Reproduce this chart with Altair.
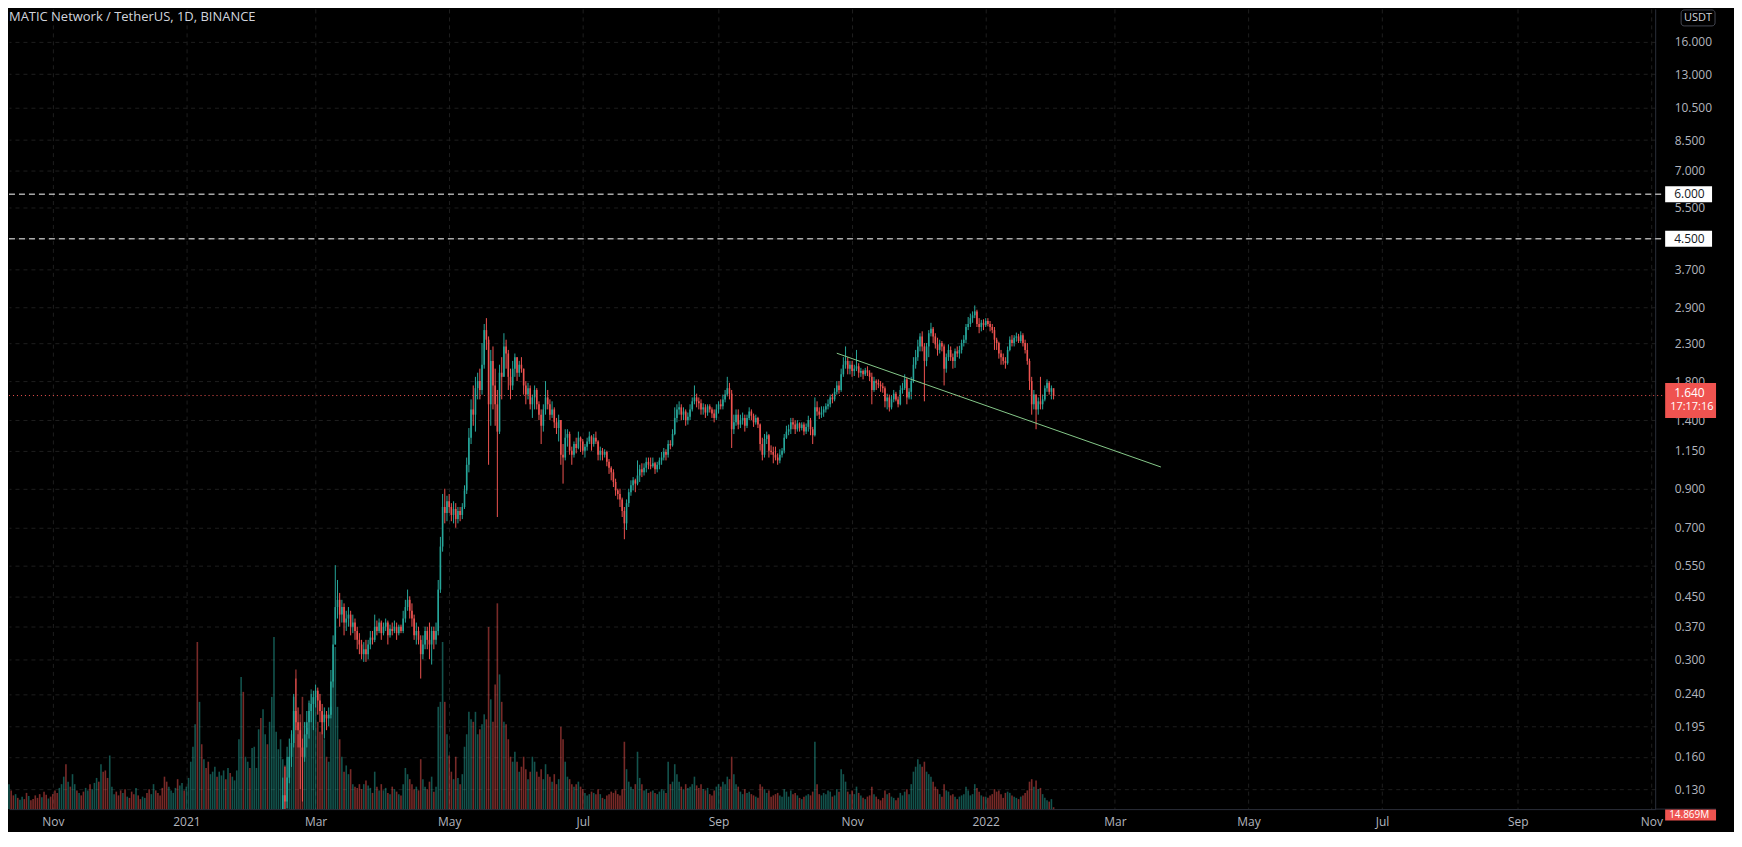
import altair as alt
import pandas as pd

W, H = 1650, 802
BG = "#000000"
GREEN = "#26a69a"
RED = "#ef5350"
TEXT = "#b2b5be"
LINE = "#2a2e39"
GRID = "#1e1e1e"
FONT = "Open Sans"

title_text = "MATIC Network / TetherUS, 1D, BINANCE"

# ---- daily closes before the price enters the visible range (2020-10-12 .. 2021-02-09), used for volume colours
early_close = [
    0.0215, 0.0212, 0.0208, 0.021, 0.0198, 0.0201, 0.0205, 0.0202, 0.0195, 0.0199, 0.0196, 0.0192, 0.0189, 0.0185, 0.0178, 0.0181, 0.0172, 0.0165, 0.0169, 0.0163,
    0.0158, 0.0152, 0.0149, 0.0155, 0.0165, 0.0172, 0.0168, 0.0175, 0.0171, 0.0178, 0.0182, 0.0179, 0.0185, 0.0181, 0.0176, 0.0184, 0.0192, 0.0188, 0.0196, 0.0205, 0.0215, 0.0209, 0.0221, 0.0212, 0.0198, 0.0185, 0.0192, 0.0202, 0.0206, 0.0199,
    0.0191, 0.0188, 0.0194, 0.0183, 0.0187, 0.0185, 0.0179, 0.0172, 0.0176, 0.0171, 0.0168, 0.0173, 0.0178, 0.0175, 0.0172, 0.0179, 0.0186, 0.0183, 0.0181, 0.0177, 0.0169, 0.0164, 0.0152, 0.0158, 0.0165, 0.0168, 0.0174, 0.0171, 0.0176, 0.0181, 0.0178,
    0.0185, 0.0192, 0.0221, 0.0232, 0.0251, 0.0238, 0.0262, 0.0247, 0.0255, 0.0241, 0.0222, 0.0229, 0.0243, 0.0251, 0.0239, 0.0247, 0.0256, 0.0262, 0.0253, 0.0259, 0.0238, 0.0246, 0.0255, 0.0268, 0.0301, 0.0342, 0.0318, 0.0335, 0.0358, 0.0347, 0.0372,
    0.0395, 0.0412, 0.0438, 0.0421, 0.0447, 0.0489, 0.0472, 0.0518, 0.0585,
]

# ---- daily candles 2021-02-10 .. 2022-02-01
close = [
    0.065, 0.072, 0.085, 0.10, 0.125, 0.12, 0.14, 0.16, 0.175, 0.215, 0.20, 0.19, 0.17, 0.16, 0.185, 0.20, 0.215, 0.225, 0.235,
    0.245, 0.23, 0.215, 0.20, 0.21, 0.205, 0.21, 0.26, 0.33, 0.42, 0.44, 0.40, 0.42, 0.38, 0.39, 0.40, 0.37, 0.38, 0.36, 0.34, 0.33, 0.31, 0.32, 0.31, 0.33, 0.345, 0.34, 0.37, 0.36, 0.38, 0.355,
    0.37, 0.38, 0.35, 0.365, 0.36, 0.37, 0.355, 0.37, 0.36, 0.39, 0.42, 0.44, 0.41, 0.39, 0.35, 0.36, 0.34, 0.31, 0.33, 0.36, 0.34, 0.33, 0.36, 0.34, 0.36, 0.47, 0.62, 0.80, 0.77, 0.83,
    0.80, 0.76, 0.79, 0.74, 0.78, 0.76, 0.80, 0.89, 1.05, 1.25, 1.50, 1.45, 1.72, 1.80, 1.70, 2.00, 2.50, 2.35, 1.55, 2.05, 1.75, 1.55, 1.30, 1.90, 1.85, 2.25, 2.15, 1.85, 1.75, 1.95, 2.10,
    1.90, 2.00, 1.95, 1.75, 1.65, 1.72, 1.55, 1.62, 1.70, 1.55, 1.45, 1.35, 1.50, 1.62, 1.55, 1.45, 1.50, 1.38, 1.33, 1.40, 1.12, 1.10, 1.25, 1.28, 1.15, 1.12, 1.20, 1.17, 1.25, 1.22,
    1.15, 1.18, 1.22, 1.26, 1.20, 1.25, 1.22, 1.12, 1.15, 1.12, 1.14, 1.07, 1.03, 1.00, 0.94, 0.89, 0.87, 0.84, 0.78, 0.72, 0.82, 0.88, 0.92, 0.95, 0.93, 0.98, 1.02, 1.00, 1.03, 1.07, 1.05,
    1.04, 1.06, 1.02, 1.05, 1.08, 1.10, 1.14, 1.12, 1.20, 1.19, 1.28, 1.42, 1.50, 1.52, 1.45, 1.48, 1.40, 1.43, 1.50, 1.58, 1.62, 1.58, 1.56, 1.50, 1.52, 1.47, 1.53, 1.50, 1.46, 1.42, 1.50,
    1.55, 1.53, 1.60, 1.65, 1.72, 1.66, 1.32, 1.38, 1.45, 1.36, 1.40, 1.42, 1.35, 1.42, 1.48, 1.44, 1.38, 1.42, 1.36, 1.20, 1.12, 1.24, 1.27, 1.15, 1.14, 1.12, 1.10, 1.08, 1.12, 1.15,
    1.25, 1.30, 1.32, 1.38, 1.36, 1.32, 1.37, 1.33, 1.36, 1.30, 1.34, 1.40, 1.32, 1.27, 1.52, 1.48, 1.45, 1.47, 1.50, 1.53, 1.55, 1.62, 1.60, 1.68, 1.75, 1.70, 1.88, 2.00, 2.05, 1.95, 2.00,
    1.92, 1.95, 1.98, 1.90, 1.92, 1.88, 1.93, 1.90, 1.85, 1.70, 1.80, 1.78, 1.76, 1.74, 1.72, 1.58, 1.62, 1.52, 1.60, 1.66, 1.60, 1.55, 1.70, 1.72, 1.82, 1.62, 1.68, 1.80, 2.00, 2.10,
    2.25, 2.40, 2.25, 2.05, 2.25, 2.45, 2.52, 2.40, 2.28, 2.20, 2.30, 2.25, 1.95, 2.10, 2.20, 2.10, 2.05, 2.18, 2.15, 2.20, 2.30, 2.35, 2.55, 2.60, 2.70, 2.75, 2.82, 2.60, 2.55, 2.62, 2.58,
    2.65, 2.60, 2.55, 2.50, 2.35, 2.30, 2.15, 2.10, 2.05, 2.02, 2.20, 2.35, 2.30, 2.38, 2.40, 2.33, 2.42, 2.30, 2.20, 2.05, 1.80, 1.55, 1.65, 1.50, 1.58, 1.55, 1.60, 1.72, 1.78, 1.68, 1.72,
    1.64,
]
high = [
    0.075, 0.08, 0.09, 0.11, 0.14, 0.15, 0.16, 0.18, 0.19, 0.24, 0.265, 0.22, 0.20, 0.18, 0.20, 0.215, 0.23, 0.24, 0.245,
    0.255, 0.25, 0.24, 0.225, 0.22, 0.215, 0.22, 0.28, 0.35, 0.55, 0.50, 0.46, 0.44, 0.43, 0.41, 0.42, 0.41, 0.40, 0.39, 0.37, 0.355, 0.34, 0.335, 0.34, 0.34, 0.36, 0.36, 0.40, 0.385, 0.39, 0.385,
    0.38, 0.39, 0.385, 0.375, 0.38, 0.385, 0.38, 0.375, 0.375, 0.41, 0.44, 0.47, 0.45, 0.43, 0.40, 0.38, 0.37, 0.35, 0.35, 0.37, 0.37, 0.38, 0.37, 0.37, 0.38, 0.50, 0.66, 0.87, 0.90, 0.86,
    0.87, 0.82, 0.83, 0.82, 0.80, 0.80, 0.82, 0.92, 1.10, 1.33, 1.60, 1.75, 1.85, 1.90, 1.95, 2.30, 2.60, 2.70, 2.40, 2.20, 2.25, 1.95, 1.70, 2.00, 2.10, 2.45, 2.35, 2.20, 1.95, 2.05, 2.15,
    2.10, 2.05, 2.10, 1.95, 1.80, 1.78, 1.75, 1.65, 1.75, 1.72, 1.58, 1.50, 1.55, 1.80, 1.70, 1.60, 1.58, 1.52, 1.42, 1.45, 1.40, 1.20, 1.32, 1.32, 1.30, 1.18, 1.22, 1.25, 1.30, 1.26,
    1.24, 1.20, 1.25, 1.30, 1.27, 1.28, 1.30, 1.23, 1.18, 1.17, 1.16, 1.15, 1.09, 1.04, 1.02, 0.96, 0.90, 0.90, 0.85, 0.80, 0.84, 0.90, 0.95, 0.97, 0.96, 1.08, 1.05, 1.06, 1.06, 1.10, 1.10,
    1.10, 1.10, 1.07, 1.07, 1.10, 1.14, 1.17, 1.16, 1.23, 1.23, 1.32, 1.52, 1.55, 1.58, 1.55, 1.52, 1.50, 1.47, 1.55, 1.62, 1.75, 1.66, 1.62, 1.60, 1.56, 1.55, 1.55, 1.55, 1.52, 1.50, 1.55,
    1.58, 1.60, 1.65, 1.70, 1.85, 1.78, 1.70, 1.45, 1.50, 1.50, 1.45, 1.47, 1.45, 1.45, 1.52, 1.50, 1.46, 1.45, 1.43, 1.37, 1.25, 1.28, 1.30, 1.28, 1.19, 1.18, 1.18, 1.13, 1.16, 1.17,
    1.28, 1.35, 1.36, 1.42, 1.42, 1.40, 1.40, 1.38, 1.38, 1.38, 1.37, 1.44, 1.42, 1.34, 1.62, 1.58, 1.52, 1.53, 1.53, 1.56, 1.60, 1.65, 1.66, 1.72, 1.80, 1.80, 1.95, 2.10, 2.25, 2.10, 2.05,
    2.05, 2.00, 2.20, 2.02, 1.96, 1.94, 1.96, 1.98, 1.93, 1.90, 1.85, 1.82, 1.82, 1.80, 1.78, 1.74, 1.66, 1.65, 1.64, 1.70, 1.68, 1.63, 1.75, 1.78, 1.88, 1.84, 1.72, 1.85, 2.10, 2.20,
    2.35, 2.45, 2.48, 2.30, 2.30, 2.50, 2.62, 2.55, 2.45, 2.38, 2.35, 2.33, 2.28, 2.15, 2.28, 2.25, 2.15, 2.22, 2.25, 2.26, 2.35, 2.42, 2.60, 2.72, 2.78, 2.82, 2.93, 2.85, 2.70, 2.67, 2.68,
    2.70, 2.70, 2.65, 2.60, 2.55, 2.38, 2.32, 2.20, 2.15, 2.10, 2.25, 2.40, 2.42, 2.42, 2.46, 2.44, 2.48, 2.45, 2.35, 2.30, 2.08, 1.85, 1.70, 1.65, 1.62, 1.85, 1.65, 1.75, 1.82, 1.80, 1.75,
    1.70,
]
low = [
    0.052, 0.062, 0.07, 0.082, 0.098, 0.11, 0.115, 0.135, 0.15, 0.17, 0.19, 0.17, 0.13, 0.12, 0.155, 0.17, 0.18, 0.20, 0.19,
    0.22, 0.21, 0.20, 0.185, 0.18, 0.19, 0.195, 0.205, 0.25, 0.33, 0.39, 0.37, 0.38, 0.35, 0.36, 0.37, 0.35, 0.355, 0.34, 0.32, 0.31, 0.30, 0.295, 0.295, 0.30, 0.32, 0.33, 0.335, 0.35, 0.355, 0.34,
    0.35, 0.36, 0.33, 0.345, 0.35, 0.355, 0.34, 0.35, 0.355, 0.355, 0.38, 0.41, 0.39, 0.37, 0.34, 0.33, 0.33, 0.265, 0.30, 0.32, 0.32, 0.30, 0.29, 0.32, 0.33, 0.35, 0.46, 0.60, 0.72, 0.73,
    0.77, 0.73, 0.72, 0.70, 0.72, 0.73, 0.74, 0.79, 0.87, 1.00, 1.20, 1.35, 1.30, 1.60, 1.60, 1.65, 1.95, 2.20, 1.05, 1.35, 1.50, 1.35, 0.75, 1.28, 1.60, 1.85, 1.95, 1.70, 1.60, 1.70, 1.85,
    1.80, 1.85, 1.90, 1.65, 1.55, 1.60, 1.50, 1.42, 1.50, 1.50, 1.40, 1.20, 1.30, 1.45, 1.50, 1.40, 1.42, 1.33, 1.28, 1.22, 1.05, 0.93, 1.08, 1.18, 1.12, 1.05, 1.10, 1.13, 1.16, 1.14,
    1.12, 1.10, 1.15, 1.20, 1.15, 1.18, 1.20, 1.08, 1.08, 1.08, 1.10, 1.04, 0.99, 0.95, 0.91, 0.86, 0.84, 0.80, 0.75, 0.65, 0.69, 0.80, 0.86, 0.89, 0.88, 0.92, 0.94, 0.97, 0.98, 1.00, 1.02,
    1.02, 1.03, 0.99, 1.00, 1.02, 1.05, 1.08, 1.08, 1.10, 1.16, 1.18, 1.27, 1.38, 1.45, 1.40, 1.40, 1.35, 1.36, 1.40, 1.48, 1.55, 1.52, 1.50, 1.45, 1.45, 1.42, 1.44, 1.47, 1.42, 1.38, 1.40,
    1.46, 1.50, 1.50, 1.57, 1.63, 1.60, 1.17, 1.28, 1.35, 1.32, 1.33, 1.36, 1.30, 1.33, 1.40, 1.40, 1.34, 1.36, 1.33, 1.15, 1.08, 1.10, 1.20, 1.10, 1.12, 1.06, 1.08, 1.05, 1.06, 1.10,
    1.13, 1.24, 1.27, 1.28, 1.32, 1.28, 1.30, 1.30, 1.31, 1.27, 1.28, 1.30, 1.27, 1.20, 1.26, 1.44, 1.41, 1.42, 1.43, 1.47, 1.50, 1.52, 1.56, 1.58, 1.65, 1.66, 1.68, 1.85, 1.95, 1.88, 1.88,
    1.85, 1.86, 1.92, 1.84, 1.85, 1.82, 1.86, 1.86, 1.80, 1.55, 1.68, 1.70, 1.72, 1.68, 1.67, 1.52, 1.50, 1.48, 1.50, 1.57, 1.58, 1.52, 1.54, 1.66, 1.70, 1.55, 1.60, 1.60, 1.78, 1.95,
    2.05, 2.18, 2.18, 1.58, 1.98, 2.10, 2.40, 2.30, 2.22, 2.12, 2.15, 2.18, 1.75, 1.90, 2.05, 2.05, 1.95, 1.96, 2.10, 2.08, 2.15, 2.25, 2.30, 2.50, 2.55, 2.62, 2.70, 2.55, 2.45, 2.48, 2.50,
    2.55, 2.56, 2.48, 2.45, 2.20, 2.20, 2.08, 2.00, 2.00, 1.95, 2.00, 2.18, 2.25, 2.25, 2.32, 2.30, 2.30, 2.25, 2.15, 2.00, 1.70, 1.45, 1.50, 1.32, 1.45, 1.50, 1.50, 1.58, 1.68, 1.65, 1.60,
    1.60,
]

# ---- daily volume in millions, 2020-10-12 .. 2022-02-01
volume = [
    200, 150, 110, 120, 90, 75, 100, 80, 130, 105, 70, 80, 110, 90, 120, 95, 140, 115, 85, 100,
    120, 150, 130, 170, 200, 260, 360, 220, 180, 280, 200, 150, 130, 110, 140, 170, 150, 200, 160, 210, 250, 220, 360, 300, 310, 250, 430, 180, 120, 140,
    110, 150, 130, 160, 100, 90, 140, 120, 170, 110, 80, 100, 90, 130, 160, 120, 200, 150, 130, 110, 170, 260, 220, 180, 150, 130, 170, 240, 190, 210, 150,
    180, 250, 380, 500, 680, 1340, 860, 520, 400, 330, 380, 280, 300, 340, 260, 300, 270, 310, 240, 330, 290, 260, 230, 310, 560, 1060, 940, 420, 380, 330, 490,
    500, 330, 640, 730, 800, 600, 520, 700, 900, 1380, 620, 480, 560, 400, 350, 500, 420, 600, 900, 1120, 600, 760, 900, 700, 650, 850, 960, 900,
    900, 700, 620, 780, 560, 420, 380, 820, 1040, 1300, 820, 560, 420, 300, 350, 280, 320, 200, 180, 170, 200, 160, 200, 230, 190, 170, 130, 300, 180, 150, 200,
    150, 170, 130, 120, 180, 160, 140, 120, 110, 200, 330, 280, 240, 200, 160, 180, 150, 400, 240, 180, 160, 220, 260, 140, 180, 820, 860, 1340, 860, 600,
    430, 300, 240, 420, 250, 200, 280, 500, 600, 780, 720, 700, 780, 600, 640, 680, 760, 720, 1460, 880, 700, 1000, 1650, 1080, 860, 700, 680, 560, 420, 380, 460,
    380, 300, 340, 420, 320, 240, 300, 420, 380, 300, 260, 320, 240, 360, 280, 260, 220, 280, 200, 240, 660, 560, 380, 260, 240, 200, 180, 200, 220, 180,
    160, 130, 110, 120, 140, 130, 120, 160, 120, 90, 80, 110, 120, 140, 130, 150, 120, 110, 160, 540, 320, 220, 180, 160, 200, 460, 250, 200, 150, 160, 130,
    140, 150, 130, 120, 140, 160, 150, 130, 380, 200, 220, 360, 280, 220, 180, 160, 200, 170, 180, 200, 260, 190, 170, 200, 160, 150, 170, 120, 110, 150, 180,
    200, 180, 220, 200, 260, 240, 420, 280, 200, 180, 140, 120, 160, 130, 140, 120, 110, 100, 90, 200, 180, 160, 130, 150, 100, 110, 120, 130, 110, 100,
    160, 140, 100, 150, 120, 130, 110, 90, 80, 100, 110, 120, 110, 140, 540, 200, 120, 110, 130, 120, 150, 140, 100, 110, 160, 140, 320, 280, 220, 140, 120,
    150, 120, 180, 130, 110, 90, 80, 100, 110, 180, 120, 100, 80, 70, 90, 150, 120, 130, 100, 90, 70, 90, 130, 110, 140, 160, 120, 200, 300, 340,
    400, 360, 340, 380, 300, 280, 260, 220, 180, 160, 120, 100, 200, 150, 140, 110, 120, 100, 80, 100, 110, 120, 180, 150, 110, 120, 200, 170, 140, 110, 100,
    100, 90, 110, 120, 160, 140, 150, 120, 90, 130, 140, 130, 110, 100, 90, 80, 100, 110, 130, 150, 220, 240, 180, 230, 160, 170, 120, 90, 70, 60, 80,
    14.869,
]

price_ticks = [0.13, 0.16, 0.195, 0.24, 0.3, 0.37, 0.45, 0.55, 0.7, 0.9, 1.15, 1.4, 1.8, 2.3, 2.9, 3.7, 4.5, 5.5, 7.0, 8.5, 10.5, 13.0, 16.0]
month_ticks = [(2020, 11), (2021, 1), (2021, 3), (2021, 5), (2021, 7), (2021, 9), (2021, 11),
               (2022, 1), (2022, 3), (2022, 5), (2022, 7), (2022, 9), (2022, 11)]
level_prices = [6.0, 4.5]
level_labels = ["6.000", "4.500"]
last_price = [1.64]
last_label = ["1.640"]
countdown = ["17:17:16"]
volume_label = ["14.869M"]
currency = ["USDT"]
trend_dates = ["2021-10-25", "2022-03-22"]
trend_prices = [2.154, 1.035]

# ---- tables
dates = pd.date_range("2021-02-10", periods=len(close), freq="D").strftime("%Y-%m-%d")
opens = [early_close[-1]] + close[:-1]
candles = pd.DataFrame({"date": dates, "open": opens, "high": high, "low": low, "close": close})
candles["dir"] = ["up" if c >= o else "down" for o, c in zip(opens, close)]

all_close = early_close + close
prev_close = [early_close[0]] + all_close[:-1]
vdates = pd.date_range("2020-10-12", periods=len(volume), freq="D").strftime("%Y-%m-%d")
vol_df = pd.DataFrame({"date": vdates, "volume": volume,
                       "dir": ["up" if c >= p else "down" for p, c in zip(prev_close, all_close)]})

levels = pd.DataFrame({"price": level_prices, "label": level_labels})
current = pd.DataFrame({"price": last_price, "label": last_label, "timer": countdown})
trend = pd.DataFrame({"date": trend_dates, "price": trend_prices})
one = pd.DataFrame({"title": [title_text], "vol": volume_label, "cur": currency})

# ---- scales / axes
x_scale = alt.Scale(type="utc", nice=False, padding=0,
                    domain=[alt.DateTime(year=2020, month=10, date=12, utc=True),
                            alt.DateTime(year=2022, month=11, date=2, hours=17, utc=True)])
y_price = alt.Scale(type="log", domain=[0.1143, 19.78], nice=False, padding=0)
y_vol = alt.Scale(domain=[0, 6416], nice=False, padding=0)
dir_color = alt.Color("dir:N", scale=alt.Scale(domain=["up", "down"], range=[GREEN, RED]), legend=None)

x_axis = alt.Axis(
    values=[alt.DateTime(year=y, month=m, date=1, utc=True) for y, m in month_ticks],
    labelExpr="utcFormat(datum.value, '%m') == '01' ? utcFormat(datum.value, '%Y') : utcFormat(datum.value, '%b')",
    grid=True, gridColor=GRID, gridDash=[4, 4], tickSize=0, labelPadding=7,
    labelColor=TEXT, labelFontSize=12, labelFont=FONT, domainColor=LINE, title=None, labelOverlap=False,
)
y_axis = alt.Axis(
    orient="right", values=price_ticks, format=".3f", grid=True, gridColor=GRID, gridDash=[4, 4],
    tickSize=0, labelPadding=19, labelColor=TEXT, labelFontSize=12, labelFont=FONT,
    domainColor=LINE, title=None, labelOverlap=False,
)

X = alt.X("date:T", scale=x_scale, axis=x_axis)


def PYf(field):
    return alt.Y(field, scale=y_price, axis=y_axis)


vol = alt.Chart(vol_df).mark_bar(width=1.6, opacity=0.5).encode(
    x=X,
    y=alt.Y("volume:Q", scale=y_vol, axis=None),
    color=dir_color,
)

wicks = alt.Chart(candles).mark_rule(strokeWidth=1, clip=True).encode(
    x=X, y=PYf("low:Q"), y2="high:Q", color=dir_color)
bodies = alt.Chart(candles).mark_bar(width=1.6, clip=True).encode(
    x=X, y=PYf("open:Q"), y2="close:Q", color=dir_color)

PY = PYf("price:Q")

level_lines = alt.Chart(levels).mark_rule(color="white", strokeDash=[6, 4], strokeWidth=1).encode(
    y=PY, x=alt.value(0), x2=alt.value(W + 10))
level_box = alt.Chart(levels).mark_rule(color="white", strokeWidth=16).encode(
    y=PY, x=alt.value(W + 10), x2=alt.value(W + 57))
level_text = alt.Chart(levels).mark_text(color="#131722", align="left", baseline="middle",
                                         fontSize=12, font=FONT).encode(
    y=PY, x=alt.value(W + 19), text="label:N")

cur_line = alt.Chart(current).mark_rule(color=RED, strokeDash=[1, 3], strokeWidth=1).encode(
    y=PY, x=alt.value(0), x2=alt.value(W + 10))
cur_box = alt.Chart(current).mark_rule(color=RED, strokeWidth=35, yOffset=5).encode(
    y=PY, x=alt.value(W + 10), x2=alt.value(W + 61))
cur_text = alt.Chart(current).mark_text(color="white", align="left", baseline="middle",
                                        fontSize=12, font=FONT, yOffset=-2.5).encode(
    y=PY, x=alt.value(W + 19), text="label:N")
cur_timer = alt.Chart(current).mark_text(color="white", align="left", baseline="middle",
                                         fontSize=11, font=FONT, yOffset=11).encode(
    y=PY, x=alt.value(W + 15), text="timer:N")

trend_line = alt.Chart(trend).mark_line(color="#86c98a", strokeWidth=1).encode(x=X, y=PY)

title_mark = alt.Chart(one).mark_text(align="left", baseline="middle", fontSize=13,
                                      color="#d1d4dc", font=FONT).encode(
    x=alt.value(0), y=alt.value(8), text="title:N")

usdt_box = alt.Chart(one).mark_rect(fill=BG, stroke="#434651", strokeWidth=1, cornerRadius=3).encode(
    x=alt.value(W + 26), x2=alt.value(W + 60), y=alt.value(1), y2=alt.value(17))
usdt_text = alt.Chart(one).mark_text(align="center", baseline="middle", fontSize=11,
                                     color="#d1d4dc", font=FONT).encode(
    x=alt.value(W + 43), y=alt.value(9), text="cur:N")

vol_box = alt.Chart(one).mark_rule(color=RED, strokeWidth=11).encode(
    x=alt.value(W + 10), x2=alt.value(W + 61), y=alt.value(H + 6))
vol_text = alt.Chart(one).mark_text(align="left", baseline="middle", fontSize=10,
                                    color="white", font=FONT).encode(
    x=alt.value(W + 14), y=alt.value(H + 6), text="vol:N")
axis_ext = alt.Chart(one).mark_rule(color=LINE, strokeWidth=1).encode(
    x=alt.value(W), x2=alt.value(W + 61), y=alt.value(H))

price = alt.layer(
    wicks, bodies, level_lines, cur_line, trend_line,
    level_box, level_text, cur_box, cur_text, cur_timer,
    title_mark, usdt_box, usdt_text, axis_ext, vol_box, vol_text,
)

chart = (
    alt.layer(vol, price)
    .resolve_scale(y="independent")
    .properties(width=W, height=H, background=BG,
                padding={"left": 0, "top": 0, "right": 0, "bottom": 4})
    .configure_view(strokeWidth=0)
)

chart.save("out.html", embed_options={"renderer": "svg", "actions": False})
